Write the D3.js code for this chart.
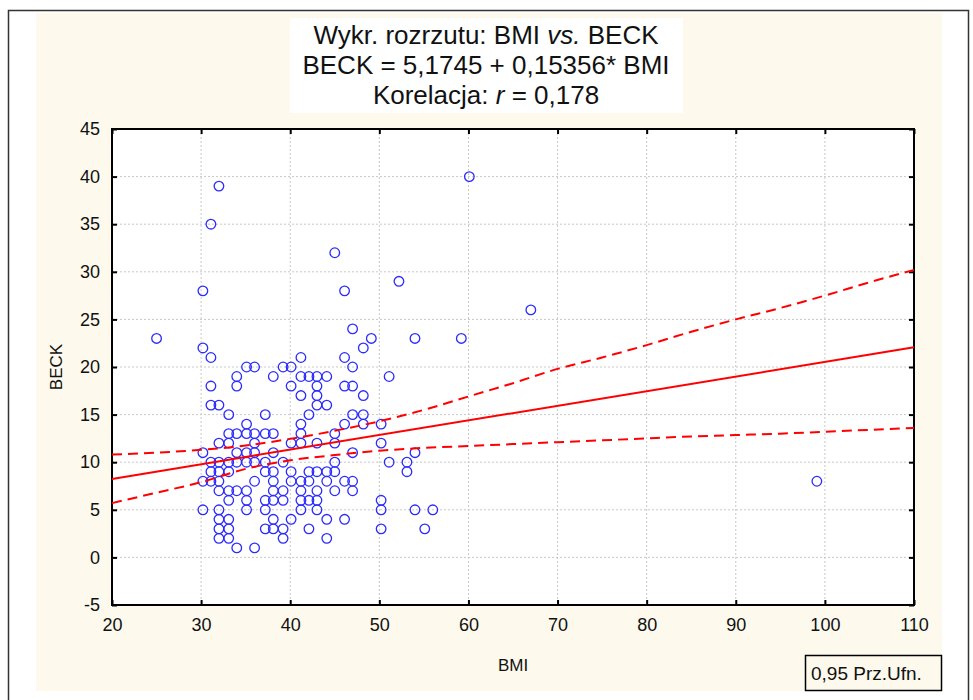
<!DOCTYPE html>
<html>
<head>
<meta charset="utf-8">
<script src="https://cdn.jsdelivr.net/npm/d3@7"></script>
<style>
  body { margin: 0; background: #fff; }
  svg { display: block; font-family: Arial, "Liberation Sans", sans-serif; }
</style>
</head>
<body>
<div id="chart"></div>
<script>
// Scatter plot BMI vs BECK with regression line and 0.95 confidence bands

// BECK score levels and the BMI values of the cases at each level
const beckRows = [40, 39, 35, 32, 29, 28, 26, 24, 23, 22, 21, 20, 19, 18, 17, 16, 15, 14, 13, 12, 11, 10, 9, 8, 7, 6, 5, 4, 3, 2, 1];
const bmiRows = [
  [60.1],
  [32.0],
  [31.1],
  [45.0],
  [52.2],
  [30.2, 46.1],
  [67.0],
  [47.0],
  [25.0, 49.1, 54.0, 59.2],
  [30.2, 48.2],
  [31.1, 41.2, 46.1],
  [35.1, 36.0, 39.2, 40.1, 47.0],
  [34.0, 38.1, 41.2, 42.1, 43.0, 44.1, 51.1],
  [31.1, 34.0, 40.1, 43.0, 46.1, 47.0],
  [41.2, 43.0, 48.2],
  [31.1, 32.0, 43.0, 44.1],
  [33.1, 37.2, 42.1, 47.0, 48.2],
  [35.1, 41.2, 46.1, 48.2, 50.2],
  [33.1, 34.0, 35.1, 36.0, 37.2, 38.1, 41.2, 45.0],
  [32.0, 33.1, 36.0, 40.1, 41.2, 43.0, 45.0, 50.2],
  [30.2, 34.0, 35.1, 36.0, 38.1, 47.0, 54.0],
  [31.1, 32.0, 33.1, 34.0, 35.1, 36.0, 37.2, 39.2, 45.0, 51.1, 53.1],
  [31.1, 32.0, 33.1, 37.2, 38.1, 40.1, 42.1, 43.0, 44.1, 45.0, 53.1],
  [30.2, 31.1, 32.0, 36.0, 38.1, 40.1, 41.2, 42.1, 44.1, 46.1, 47.0, 99.1],
  [32.0, 33.1, 34.0, 35.1, 38.1, 39.2, 41.2, 43.0, 45.0, 47.0],
  [33.1, 35.1, 37.2, 38.1, 39.2, 41.2, 42.1, 43.0, 50.2],
  [30.2, 32.0, 35.1, 37.2, 41.2, 43.0, 50.2, 54.0, 56.0],
  [32.0, 33.1, 38.1, 40.1, 44.1, 46.1],
  [32.0, 33.1, 37.2, 38.1, 39.2, 42.1, 50.2, 55.1],
  [32.0, 33.1, 39.2, 44.1],
  [34.0, 36.0]
];

// regression BECK = a + b * BMI
const intercept = 5.1745;
const slope = 0.15356;

// confidence band
const bandBmi = [20, 25, 30, 35, 40, 45, 50, 55, 60, 65, 70, 75, 80, 85, 90, 95, 100, 105, 110];
const bandUpper = [10.8, 11.0, 11.3, 11.75, 12.45, 13.3, 14.3, 15.5, 16.9, 18.3, 19.8, 21.0, 22.3, 23.7, 25.0, 26.2, 27.5, 28.9, 30.2];
const bandLower = [5.7, 6.8, 7.9, 9.3, 10.2, 10.75, 11.2, 11.5, 11.7, 11.9, 12.1, 12.3, 12.5, 12.7, 12.85, 13.0, 13.2, 13.4, 13.6];

// axes
const xTicks = [20, 30, 40, 50, 60, 70, 80, 90, 100, 110];
const yTicks = [-5, 0, 5, 10, 15, 20, 25, 30, 35, 40, 45];

const W = 973, H = 700;
const margin = { top: 129, right: 59, bottom: 95, left: 112 };
const width = W - margin.left - margin.right;
const height = H - margin.top - margin.bottom;

const svg = d3.select("#chart").append("svg")
  .attr("width", W)
  .attr("height", H);

// outer frame and cream panel
svg.append("rect")
  .attr("x", 8.5).attr("y", 10.5)
  .attr("width", 960).attr("height", 700)
  .attr("fill", "#fff")
  .attr("stroke", "#333")
  .attr("stroke-width", 1.5);

svg.append("rect")
  .attr("x", 36).attr("y", 13)
  .attr("width", 906).attr("height", 678)
  .attr("fill", "#fdf9ed");

// title box
svg.append("rect")
  .attr("x", 290).attr("y", 18)
  .attr("width", 393).attr("height", 95)
  .attr("fill", "#fff");

const titleLines = [
  [["Wykr. rozrzutu: BMI ", false], ["vs.", true], [" BECK", false]],
  [["BECK = 5,1745 + 0,15356* BMI", false]],
  [["Korelacja: ", false], ["r", true], [" = 0,178", false]]
];
titleLines.forEach((parts, i) => {
  const t = svg.append("text")
    .attr("x", 486)
    .attr("y", 44 + i * 30)
    .attr("text-anchor", "middle")
    .style("font-size", "26px")
    .style("fill", "#111");
  parts.forEach(p => {
    t.append("tspan")
      .style("font-style", p[1] ? "italic" : "normal")
      .text(p[0]);
  });
});

const g = svg.append("g")
  .attr("transform", `translate(${margin.left},${margin.top})`);

const x = d3.scaleLinear().domain([20, 110]).range([0, width]);
const y = d3.scaleLinear().domain([-5, 45]).range([height, 0]);

g.append("rect")
  .attr("width", width).attr("height", height)
  .attr("fill", "#fff");

// grid
g.append("g")
  .selectAll("line")
  .data(xTicks.slice(1, -1))
  .enter().append("line")
  .attr("x1", d => x(d)).attr("x2", d => x(d))
  .attr("y1", 0).attr("y2", height)
  .attr("stroke", "#c8c8c8")
  .attr("stroke-dasharray", "2,2");

g.append("g")
  .selectAll("line")
  .data(yTicks.slice(1, -1))
  .enter().append("line")
  .attr("y1", d => y(d)).attr("y2", d => y(d))
  .attr("x1", 0).attr("x2", width)
  .attr("stroke", "#c8c8c8")
  .attr("stroke-dasharray", "2,2");

// axes with inward ticks
const tickLen = 5;
const xAxis = g.append("g")
  .attr("transform", `translate(0,${height})`)
  .call(d3.axisBottom(x).tickValues(xTicks).tickSizeInner(-tickLen).tickSizeOuter(0).tickPadding(13));
const xAxisTop = g.append("g")
  .call(d3.axisTop(x).tickValues(xTicks).tickSizeInner(-tickLen).tickSizeOuter(0).tickFormat(""));
const yAxis = g.append("g")
  .call(d3.axisLeft(y).tickValues(yTicks).tickSizeInner(-tickLen).tickSizeOuter(0).tickPadding(12));
const yAxisRight = g.append("g")
  .attr("transform", `translate(${width},0)`)
  .call(d3.axisRight(y).tickValues(yTicks).tickSizeInner(-tickLen).tickSizeOuter(0).tickFormat(""));

[xAxis, xAxisTop, yAxis, yAxisRight].forEach(a => {
  a.select(".domain").remove();
  a.selectAll(".tick line").attr("stroke", "#000").attr("stroke-width", 2);
  a.selectAll("text")
    .style("font-size", "18px")
    .style("font-family", "Arial, 'Liberation Sans', sans-serif")
    .attr("fill", "#111");
});
// plain hyphen minus like the original
yAxis.selectAll("text").text(d => String(d));

// plot frame
g.append("rect")
  .attr("width", width).attr("height", height)
  .attr("fill", "none")
  .attr("stroke", "#000")
  .attr("stroke-width", 2);

// points
const points = [];
beckRows.forEach((b, i) => {
  bmiRows[i].forEach(v => points.push({ bmi: v, beck: b }));
});

g.append("g")
  .selectAll("circle")
  .data(points)
  .enter().append("circle")
  .attr("cx", d => x(d.bmi))
  .attr("cy", d => y(d.beck))
  .attr("r", 4.8)
  .attr("fill", "none")
  .attr("stroke", "#2b2bff")
  .attr("stroke-width", 1.3);

// regression line
g.append("line")
  .attr("x1", x(20)).attr("y1", y(intercept + slope * 20))
  .attr("x2", x(110)).attr("y2", y(intercept + slope * 110))
  .attr("stroke", "#ff0000")
  .attr("stroke-width", 2);

// confidence bands
const bandLine = d3.line()
  .x(d => x(d[0]))
  .y(d => y(d[1]))
  .curve(d3.curveMonotoneX);

[bandUpper, bandLower].forEach(band => {
  g.append("path")
    .attr("d", bandLine(bandBmi.map((v, i) => [v, band[i]])))
    .attr("fill", "none")
    .attr("stroke", "#ff0000")
    .attr("stroke-width", 2)
    .attr("stroke-dasharray", "10,6");
});

// axis titles
svg.append("text")
  .attr("transform", "translate(62,367) rotate(-90)")
  .attr("text-anchor", "middle")
  .style("font-size", "17px")
  .style("fill", "#111")
  .text("BECK");

svg.append("text")
  .attr("x", 513)
  .attr("y", 671)
  .attr("text-anchor", "middle")
  .style("font-size", "17px")
  .style("fill", "#111")
  .text("BMI");

// legend box
svg.append("rect")
  .attr("x", 805.5).attr("y", 655.5)
  .attr("width", 136).attr("height", 35)
  .attr("fill", "#fdf9ed")
  .attr("stroke", "#000")
  .attr("stroke-width", 1.5);

svg.append("text")
  .attr("x", 811)
  .attr("y", 680)
  .style("font-size", "19px")
  .style("fill", "#111")
  .text("0,95 Prz.Ufn.");
</script>
</body>
</html>
